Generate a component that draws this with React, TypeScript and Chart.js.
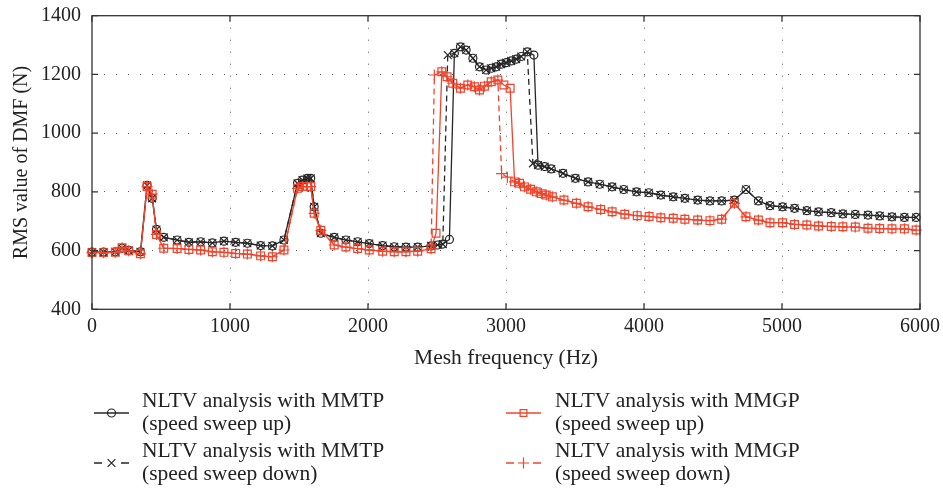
import { useEffect, useRef } from "react";
import { Chart, registerables } from "chart.js";

Chart.register(...registerables);

const FONT = '"Liberation Serif", "Times New Roman", serif';
const BLACK = "#262626";
const RED = "#f0452d";
const TEXT = "#222222";

// Shared low-frequency sweep points (Hz) and RMS values (N)
const lowFreq = [0, 84, 169, 218, 266, 351, 399, 436, 467, 520, 617, 702, 787, 872, 956, 1041, 1126, 1222, 1307, 1391, 1489, 1525, 1561, 1585, 1610, 1658, 1755, 1840, 1925, 2009, 2106, 2190, 2275, 2360, 2457];
const mmtpLow = [595, 595, 596, 608, 601, 596, 822, 778, 672, 645, 636, 628, 630, 626, 632, 628, 625, 617, 616, 636, 829, 840, 846, 846, 749, 659, 645, 636, 630, 624, 617, 613, 612, 612, 616];
const mmgpLow = [593, 593, 594, 610, 599, 589, 818, 792, 655, 608, 607, 604, 602, 596, 594, 590, 588, 582, 579, 602, 812, 818, 818, 818, 727, 669, 619, 612, 607, 602, 598, 596, 596, 598, 606];

// MMTP: jump region, upper branch, drop and tail
const mmtpUpJumpFreq = [2505, 2542, 2590];
const mmtpUpJump = [619, 622, 638];
const mmtpDownJumpFreq = [2505, 2542, 2578];
const mmtpDownJump = [619, 622, 1266];
const mmtpTopFreq = [2626, 2670, 2711, 2760, 2808, 2856, 2893, 2929, 2965, 3001, 3038, 3074, 3110, 3154];
const mmtpTop = [1272, 1294, 1283, 1255, 1226, 1215, 1221, 1226, 1235, 1240, 1246, 1252, 1261, 1277];
const mmtpUpDropFreq = [3202];
const mmtpUpDrop = [1266];
const mmtpDownDropFreq = [3195];
const mmtpDownDrop = [897];
const mmtpTailFreq = [3232, 3280, 3328, 3413, 3503, 3595, 3679, 3769, 3853, 3946, 4035, 4122, 4212, 4296, 4389, 4478, 4563, 4655, 4739, 4829, 4913, 5004, 5091, 5180, 5265, 5357, 5441, 5531, 5623, 5708, 5797, 5887, 5972];
const mmtpTail = [891, 886, 878, 863, 846, 834, 826, 817, 808, 800, 797, 789, 783, 778, 772, 769, 769, 772, 808, 769, 753, 749, 744, 736, 732, 729, 725, 723, 721, 718, 715, 713, 713];

// MMGP: jump region, upper branch, drop and tail
const mmgpUpJumpFreq = [2493];
const mmgpUpJump = [659];
const mmgpDownJumpFreq = [2481];
const mmgpDownJump = [1198];
const mmgpTopFreq = [2535, 2573, 2614, 2670, 2723, 2771, 2808, 2844, 2893, 2941];
const mmgpTop = [1209, 1192, 1170, 1153, 1164, 1158, 1147, 1160, 1175, 1181];
const mmgpUpDropFreq = [2985, 3030];
const mmgpUpDrop = [1164, 1153];
const mmgpDownDropFreq = [2968, 3010];
const mmgpDownDrop = [862, 850];
const mmgpTailFreq = [3062, 3098, 3134, 3178, 3219, 3256, 3292, 3336, 3420, 3510, 3595, 3686, 3769, 3861, 3951, 4037, 4122, 4212, 4296, 4389, 4478, 4563, 4655, 4739, 4829, 4913, 5004, 5091, 5180, 5265, 5357, 5441, 5531, 5623, 5708, 5797, 5887, 5972];
const mmgpTail = [834, 829, 817, 809, 800, 794, 789, 783, 772, 761, 749, 740, 732, 724, 719, 716, 712, 710, 707, 704, 702, 707, 761, 715, 704, 695, 695, 689, 687, 684, 682, 681, 680, 676, 675, 674, 674, 670];

const xTicks = [0, 1000, 2000, 3000, 4000, 5000, 6000];
const yTicks = [400, 600, 800, 1000, 1200, 1400];

const legendLabels = [
  ["NLTV analysis with MMTP", "(speed sweep up)"],
  ["NLTV analysis with MMTP", "(speed sweep down)"],
  ["NLTV analysis with MMGP", "(speed sweep up)"],
  ["NLTV analysis with MMGP", "(speed sweep down)"],
];

const pts = (xs: number[], ys: number[]) => xs.map((x, i) => ({ x, y: ys[i] }));

function drawMarker(ctx: CanvasRenderingContext2D, style: string, x: number, y: number, r: number) {
  ctx.beginPath();
  if (style === "circle") {
    ctx.arc(x, y, r, 0, Math.PI * 2);
  } else if (style === "rect") {
    const s = r * Math.SQRT1_2;
    ctx.rect(x - s, y - s, 2 * s, 2 * s);
  } else if (style === "cross") {
    ctx.moveTo(x - r, y);
    ctx.lineTo(x + r, y);
    ctx.moveTo(x, y - r);
    ctx.lineTo(x, y + r);
  } else {
    const d = r * Math.SQRT1_2;
    ctx.moveTo(x - d, y - d);
    ctx.lineTo(x + d, y + d);
    ctx.moveTo(x - d, y + d);
    ctx.lineTo(x + d, y - d);
  }
  ctx.stroke();
}

const frameAndLegend = {
  id: "frameAndLegend",
  afterDraw(chart: any) {
    const { ctx, chartArea: a, scales } = chart;
    ctx.save();
    ctx.strokeStyle = "#333";
    ctx.lineWidth = 1.3;
    ctx.setLineDash([]);
    ctx.strokeRect(a.left, a.top, a.right - a.left, a.bottom - a.top);
    const tl = 6;
    ctx.beginPath();
    for (const v of xTicks) {
      const px = scales.x.getPixelForValue(v);
      ctx.moveTo(px, a.bottom);
      ctx.lineTo(px, a.bottom - tl);
      ctx.moveTo(px, a.top);
      ctx.lineTo(px, a.top + tl);
    }
    for (const v of yTicks) {
      const py = scales.y.getPixelForValue(v);
      ctx.moveTo(a.left, py);
      ctx.lineTo(a.left + tl, py);
      ctx.moveTo(a.right, py);
      ctx.lineTo(a.right - tl, py);
    }
    ctx.stroke();

    // legend, two columns below the plot
    const entries = [
      { col: 0, row: 0, color: BLACK, dashed: false, style: "circle", r: 4 },
      { col: 0, row: 1, color: BLACK, dashed: true, style: "crossRot", r: 5.5 },
      { col: 1, row: 0, color: RED, dashed: false, style: "rect", r: 4.8 },
      { col: 1, row: 1, color: RED, dashed: true, style: "cross", r: 5.5 },
    ];
    const symX = [94, 506];
    const symLen = 35;
    const textX = [142, 555];
    const rowY = [413, 463];
    ctx.font = `21.5px ${FONT}`;
    ctx.textBaseline = "middle";
    ctx.textAlign = "left";
    entries.forEach((e, i) => {
      const x0 = symX[e.col];
      const y = rowY[e.row];
      ctx.strokeStyle = e.color;
      ctx.lineWidth = 1.3;
      ctx.beginPath();
      if (e.dashed) {
        ctx.moveTo(x0, y);
        ctx.lineTo(x0 + 8, y);
        ctx.moveTo(x0 + symLen - 8, y);
        ctx.lineTo(x0 + symLen, y);
      } else {
        ctx.moveTo(x0, y);
        ctx.lineTo(x0 + symLen, y);
      }
      ctx.stroke();
      ctx.lineWidth = 1.2;
      drawMarker(ctx, e.style, x0 + symLen / 2, y, e.r);
      ctx.fillStyle = TEXT;
      ctx.fillText(legendLabels[i][0], textX[e.col], y - 12);
      ctx.fillText(legendLabels[i][1], textX[e.col], y + 11);
    });
    ctx.restore();
  },
};

export default function App() {
  const ref = useRef<HTMLCanvasElement>(null);

  useEffect(() => {
    if (!ref.current) return;
    const common = { borderWidth: 1.3, pointBorderWidth: 1.2, pointBackgroundColor: "rgba(0,0,0,0)", fill: false, tension: 0, clip: false as const };
    const chart = new Chart(ref.current, {
      type: "line",
      data: {
        datasets: [
          {
            ...common,
            label: "NLTV analysis with MMGP (speed sweep down)",
            data: pts([...lowFreq, ...mmgpDownJumpFreq, ...mmgpTopFreq, ...mmgpDownDropFreq, ...mmgpTailFreq], [...mmgpLow, ...mmgpDownJump, ...mmgpTop, ...mmgpDownDrop, ...mmgpTail]),
            borderColor: RED,
            pointBorderColor: RED,
            borderDash: [6, 4],
            pointStyle: "cross",
            pointRadius: 5.5,
          },
          {
            ...common,
            label: "NLTV analysis with MMGP (speed sweep up)",
            data: pts([...lowFreq, ...mmgpUpJumpFreq, ...mmgpTopFreq, ...mmgpUpDropFreq, ...mmgpTailFreq], [...mmgpLow, ...mmgpUpJump, ...mmgpTop, ...mmgpUpDrop, ...mmgpTail]),
            borderColor: RED,
            pointBorderColor: RED,
            pointStyle: "rect",
            pointRadius: 5.5,
          },
          {
            ...common,
            label: "NLTV analysis with MMTP (speed sweep down)",
            data: pts([...lowFreq, ...mmtpDownJumpFreq, ...mmtpTopFreq, ...mmtpDownDropFreq, ...mmtpTailFreq], [...mmtpLow, ...mmtpDownJump, ...mmtpTop, ...mmtpDownDrop, ...mmtpTail]),
            borderColor: BLACK,
            pointBorderColor: BLACK,
            borderDash: [6, 4],
            pointStyle: "crossRot",
            pointRadius: 5.5,
          },
          {
            ...common,
            label: "NLTV analysis with MMTP (speed sweep up)",
            data: pts([...lowFreq, ...mmtpUpJumpFreq, ...mmtpTopFreq, ...mmtpUpDropFreq, ...mmtpTailFreq], [...mmtpLow, ...mmtpUpJump, ...mmtpTop, ...mmtpUpDrop, ...mmtpTail]),
            borderColor: BLACK,
            pointBorderColor: BLACK,
            pointStyle: "circle",
            pointRadius: 4,
          },
        ],
      },
      options: {
        responsive: false,
        animation: false,
        devicePixelRatio: 1,
        layout: { padding: { left: 0, top: 15.7, right: 23, bottom: 118.7 } },
        plugins: { legend: { display: false }, tooltip: { enabled: false } },
        scales: {
          x: {
            type: "linear",
            min: 0,
            max: 6000,
            afterBuildTicks: (s: any) => { s.ticks = xTicks.map((v) => ({ value: v })); },
            afterFit: (s: any) => { s.height = 66; s.paddingLeft = 0; s.paddingRight = 0; },
            ticks: { color: TEXT, font: { family: FONT, size: 20 }, padding: 5, maxRotation: 0, callback: (v: any) => String(v) },
            grid: {
              color: (c: any) => (c.tick && (c.tick.value === 0 || c.tick.value === 6000) ? "rgba(0,0,0,0)" : "#555"),
              lineWidth: 1,
              drawTicks: false,
            },
            border: { display: false, dash: [1, 11] },
            title: { display: true, text: "Mesh frequency (Hz)", color: TEXT, font: { family: FONT, size: 21.5 }, padding: { top: 4, bottom: 4 } },
          },
          y: {
            type: "linear",
            min: 400,
            max: 1400,
            afterBuildTicks: (s: any) => { s.ticks = yTicks.map((v) => ({ value: v })); },
            afterFit: (s: any) => { s.width = 92; s.paddingTop = 0; s.paddingBottom = 0; },
            ticks: { color: TEXT, font: { family: FONT, size: 20 }, padding: 11, callback: (v: any) => String(v) },
            grid: {
              color: (c: any) => (c.tick && (c.tick.value === 400 || c.tick.value === 1400) ? "rgba(0,0,0,0)" : "#555"),
              lineWidth: 1,
              drawTicks: false,
            },
            border: { display: false, dash: [1, 11] },
            title: { display: true, text: "RMS value of DMF (N)", color: TEXT, font: { family: FONT, size: 20 }, padding: { top: 10, bottom: 4 } },
          },
        },
      },
      plugins: [frameAndLegend],
    } as any);
    return () => chart.destroy();
  }, []);

  return (
    <div style={{ position: "fixed", left: 0, top: 0, width: 943, height: 494, background: "#fff" }}>
      <canvas ref={ref} width={943} height={494} style={{ display: "block" }} />
    </div>
  );
}
